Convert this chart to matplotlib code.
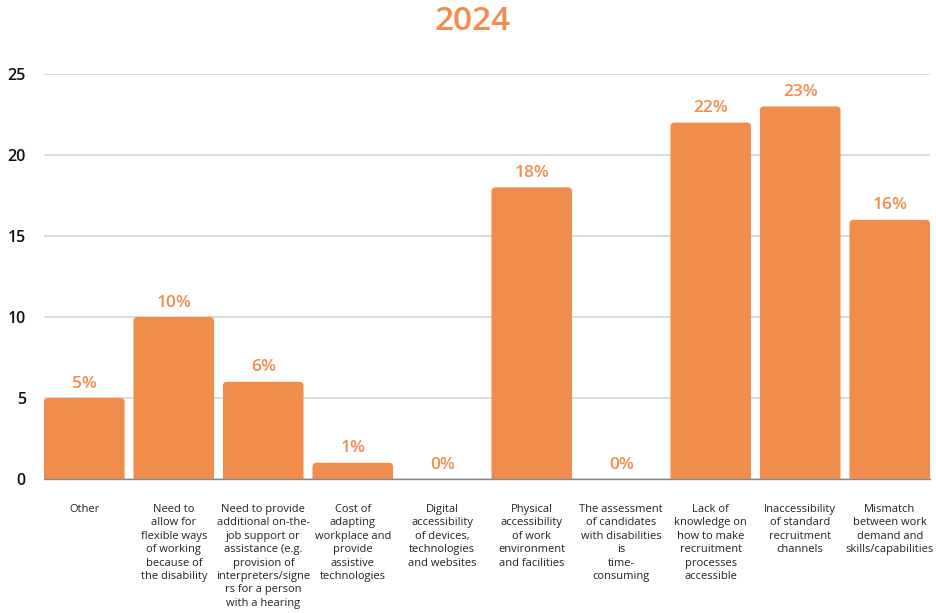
import matplotlib
matplotlib.use("Agg")
import matplotlib.pyplot as plt
from matplotlib.patches import FancyBboxPatch

categories = [
    "Other",
    "Need to\nallow for\nflexible ways\nof working\nbecause of\nthe disability",
    "Need to provide\nadditional on-the-\njob support or\nassistance (e.g.\nprovision of\ninterpreters/signe\nrs for a person\nwith a hearing",
    "Cost of\nadapting\nworkplace and\nprovide\nassistive\ntechnologies",
    "Digital\naccessibility\nof devices,\ntechnologies\nand websites",
    "Physical\naccessibility\nof work\nenvironment\nand facilities",
    "The assessment\nof candidates\nwith disabilities\nis\ntime-\nconsuming",
    "Lack of\nknowledge on\nhow to make\nrecruitment\nprocesses\naccessible",
    "Inaccessibility\nof standard\nrecruitment\nchannels",
    "Mismatch\nbetween work\ndemand and\nskills/capabilities",
]
values = [5, 10, 6, 1, 0, 18, 0, 22, 23, 16]
yticks = [0, 5, 10, 15, 20, 25]
title = "2024"

ORANGE = "#F08D4C"
FONT = "Open Sans"

fig = plt.figure(figsize=(9.37, 6.13), dpi=100)
ax = fig.add_axes([44 / 937, 134 / 613, 886 / 937, 405 / 613])
ax.set_xlim(-0.45, len(values) - 0.55)
ax.set_ylim(0, 25)

# pixel scale per data unit, used to keep corner rounding circular
px_x = 886 / (len(values) - 0.1)
px_y = 405 / 25
width = 0.9
r = 0.045
for i, v in enumerate(values):
    if v <= 0:
        continue
    patch = FancyBboxPatch(
        (i - width / 2, -0.5), width, v + 0.5,
        boxstyle=f"round,pad=0,rounding_size={r}",
        mutation_aspect=px_x / px_y,
        facecolor=ORANGE, edgecolor="none", zorder=3,
    )
    ax.add_patch(patch)

for i, v in enumerate(values):
    ax.text(i, v + 0.4, f"{v}%", ha="center", va="bottom", color=ORANGE,
            fontsize=12.5, fontweight="semibold", family=FONT, zorder=4)

ax.set_yticks(yticks)
ax.set_yticklabels([str(t) for t in yticks], fontsize=11.5, fontweight="semibold",
                   family=FONT, color="#111111")
ax.tick_params(axis="y", length=0, pad=13)
ax.grid(axis="y", color="#d4d4d4", linewidth=1.2, zorder=0)
ax.set_axisbelow(True)

ax.set_xticks(range(len(values)))
ax.set_xticklabels(categories, fontsize=8, family=FONT, color="#222222",
                   linespacing=1.3, va="top")
ax.tick_params(axis="x", length=0, pad=18)

for s in ["top", "right", "left"]:
    ax.spines[s].set_visible(False)
ax.spines["bottom"].set_color("#888888")
ax.spines["bottom"].set_linewidth(1.0)
ax.spines["bottom"].set_zorder(5)

fig.text(473 / 937, 1 - 22 / 613, title, ha="center", va="center",
         color=ORANGE, fontsize=24, family=FONT, fontweight="semibold")

fig.savefig("out.png", dpi=100)
